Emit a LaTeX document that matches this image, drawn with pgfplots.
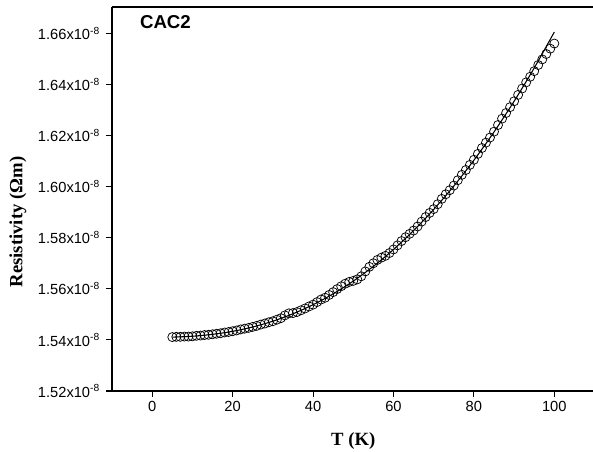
\documentclass[border=0pt]{standalone}
\usepackage{fontspec}
\setmainfont{Liberation Sans}
\newfontfamily\seriffont{Liberation Serif}
\usepackage{pgfplots}
\pgfplotsset{compat=1.18}
\usetikzlibrary{calc}

\pgfplotstableread{
T rho
5 1.5411
6 1.5412
7 1.5412
8 1.5413
9 1.5413
10 1.5414
11 1.5416
12 1.5417
13 1.5419
14 1.5420
15 1.5422
16 1.5424
17 1.5426
18 1.5429
19 1.5431
20 1.5434
21 1.5437
22 1.5441
23 1.5444
24 1.5447
25 1.5451
26 1.5455
27 1.5460
28 1.5464
29 1.5469
30 1.5473
31 1.5479
32 1.5485
33 1.5496
34 1.5504
35 1.5505
36 1.5509
37 1.5516
38 1.5523
39 1.5531
40 1.5538
41 1.5548
42 1.5558
43 1.5565
44 1.5576
45 1.5587
46 1.5599
47 1.5610
48 1.5620
49 1.5627
50 1.5631
51 1.5637
52 1.5649
53 1.5668
54 1.5686
55 1.5700
56 1.5713
57 1.5722
58 1.5729
59 1.5740
60 1.5754
61 1.5770
62 1.5787
63 1.5802
64 1.5815
65 1.5828
66 1.5844
67 1.5863
68 1.5881
69 1.5897
70 1.5912
71 1.5931
72 1.5952
73 1.5970
74 1.5986
75 1.6004
76 1.6025
77 1.6046
78 1.6065
79 1.6085
80 1.6105
81 1.6128
82 1.6151
83 1.6172
84 1.6192
85 1.6215
86 1.6241
87 1.6266
88 1.6288
89 1.6311
90 1.6334
91 1.6359
92 1.6384
93 1.6408
94 1.6430
95 1.6452
96 1.6476
97 1.6498
98 1.6519
99 1.6540
100 1.6560
}\datatable

\pgfplotstableread{
T rho
5 1.54108
10 1.54143
15 1.54217
20 1.54335
25 1.54506
30 1.54733
35 1.55022
40 1.55377
45 1.55803
50 1.56302
55 1.56879
60 1.57536
65 1.58277
70 1.59105
75 1.60022
80 1.61032
85 1.62138
90 1.63341
95 1.64644
100 1.66050
}\fittable

\begin{document}
\begin{tikzpicture}
\begin{axis}[name=ax, scale only axis, width=361.9pt, height=288pt,
  xmin=-10, xmax=110, ymin=1.52, ymax=1.6703,
  axis x line*=bottom, axis y line*=left,
  axis line style={line width=0.8pt, -},
  tick style={line width=0.8pt, black},
  major tick length=4.5pt,
  tick align=outside,
  xtick={0,20,40,60,80,100},
  ytick={1.52,1.54,1.56,1.58,1.60,1.62,1.64,1.66},
  yticklabels={1.52x10\textsuperscript{-8},1.54x10\textsuperscript{-8},1.56x10\textsuperscript{-8},1.58x10\textsuperscript{-8},1.60x10\textsuperscript{-8},1.62x10\textsuperscript{-8},1.64x10\textsuperscript{-8},1.66x10\textsuperscript{-8}},
  /pgf/number format/assume math mode=true,
  ticklabel style={font=\fontsize{11}{13}\selectfont},
  yticklabel style={xshift=-1pt},
  xlabel={T (K)}, ylabel={Resistivity (Ωm)},
  every axis x label/.style={at={(axis description cs:0.5,-0.130)}, anchor=center, font=\seriffont\bfseries\fontsize{14}{16}\selectfont},
  every axis y label/.style={at={(axis description cs:-0.195,0.44)}, rotate=90, anchor=center, font=\seriffont\bfseries\fontsize{14}{16}\selectfont},
  clip=false,
]
\addplot[only marks, mark=o, mark size=3.4pt, mark options={line width=0.55pt, black}] table[x=T, y=rho] {\datatable};
\addplot[black, line width=0.8pt, smooth] table[x=T, y=rho] {\fittable};
\draw[line width=0.8pt] (rel axis cs:0,1) -- (rel axis cs:1,1);
\node[anchor=west, font=\bfseries\fontsize{14}{16}\selectfont] at (axis cs:-4.2,1.6644) {CAC2};
\end{axis}
\pgfresetboundingbox
\path[use as bounding box] ($(ax.south west)+(-84pt,-45.75pt)$) rectangle ($(ax.north west)+(360.75pt,5.25pt)$);
\end{tikzpicture}
\end{document}
